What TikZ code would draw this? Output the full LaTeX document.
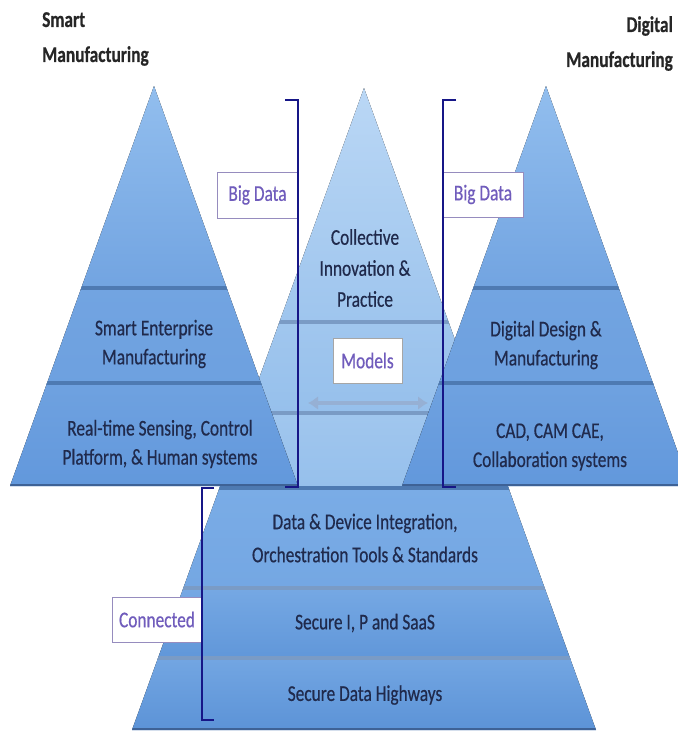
\documentclass[tikz,border=0pt]{standalone}
\usepackage{fontspec}
\setmainfont{Carlito}[FakeStretch=0.77, FakeBold=0.5]
\usetikzlibrary{arrows.meta,positioning}
\definecolor{sidetop}{RGB}{146,190,238}
\definecolor{sidemid}{RGB}{114,164,225}
\definecolor{sidelow}{RGB}{98,152,220}
\definecolor{midtop}{RGB}{186,215,245}
\definecolor{midlow}{RGB}{150,192,236}
\definecolor{basetop}{RGB}{122,172,230}
\definecolor{baselow}{RGB}{92,147,215}
\definecolor{divider}{RGB}{78,122,178}
\definecolor{edgeblue}{RGB}{62,98,150}
\definecolor{bracketblue}{RGB}{22,22,135}
\definecolor{tagtext}{RGB}{112,92,188}
\definecolor{tagborder}{RGB}{150,140,190}
\definecolor{bodytext}{RGB}{32,42,76}
\definecolor{arrowgray}{RGB}{150,176,212}
\tikzset{
    layer line/.style={line width=4pt, divider},
    edge line/.style={line width=3pt, edgeblue},
    bracket/.style={line width=2.6pt, bracketblue},
    tag/.style={draw=tagborder, fill=white, text=tagtext, line width=1pt, inner sep=0pt},
    layer text/.style={text=bodytext, align=center, inner sep=0pt},
    title/.style={font=\fontsize{22.5}{35}\selectfont\bfseries, text=black!85, inner sep=0pt},
    model arrow/.style={{Latex[length=10pt,width=14pt]}-{Latex[length=10pt,width=14pt]}, line width=4pt, arrowgray},
}
\tikzstyle{every node}=[font=\fontsize{22.5}{29}\selectfont]

\begin{document}
\begin{tikzpicture}[x=1pt,y=-1pt]
    \useasboundingbox (0,0) rectangle (678,737);

    % central pyramid, behind the two others
    \begin{scope}
        \clip (364,88) -- (596,730) -- (132,730) -- cycle;
        \fill[top color=midtop, bottom color=midlow!92!white] (0,88) rectangle (678,322);
        \fill[top color=midlow!90!white, bottom color=midlow] (0,322) rectangle (678,413);
        \fill[top color=midlow!90!white, bottom color=midlow] (0,413) rectangle (678,487);
        \fill[top color=basetop, bottom color=basetop!80!baselow] (0,487) rectangle (678,588);
        \fill[top color=basetop!85!baselow, bottom color=baselow!85!basetop] (0,588) rectangle (678,658);
        \fill[top color=basetop!75!baselow, bottom color=baselow] (0,658) rectangle (678,730);
        \foreach \y in {322,413,588,658} {
            \draw[layer line, divider!75!white] (0,\y) -- (678,\y);
        };
        \draw[layer line] (0,488) -- (678,488);
        \draw[edge line] (0,729) -- (678,729);
    \end{scope}

    % smart and digital pyramids
    \foreach \ax in {154,546} {
        \begin{scope}
            \clip (\ax,86) -- ++(144,400) -- ++(-288,0) -- cycle;
            \fill[top color=sidetop, bottom color=sidemid] (0,86) rectangle (678,288);
            \fill[top color=sidemid, bottom color=sidemid!70!sidelow] (0,288) rectangle (678,383);
            \fill[top color=sidemid!80!sidelow, bottom color=sidelow] (0,383) rectangle (678,486);
            \draw[layer line] (0,288) -- (678,288) (0,383) -- (678,383);
            \draw[edge line] (0,485) -- (678,485);
        \end{scope}
    };

    \node[title, anchor=north west, align=left] (smarttitle) at (42,12) {Smart\\Manufacturing};
    \node[title, anchor=north east, align=right] (digitaltitle) at (673,16) {Digital\\Manufacturing};

    \node[layer text] (enterprise) at (154,344) {Smart Enterprise\\Manufacturing};
    \node[layer text] (sensing) at (160,444) {Real-time Sensing, Control\\Platform, \& Human systems};
    \node[layer text, font=\fontsize{22.5}{31}\selectfont] (collective) at (365,268) {Collective\\Innovation \&\\Practice};
    \node[layer text] (design) at (546,345) {Digital Design \&\\Manufacturing};
    \node[layer text] (cad) at (550,447) {CAD, CAM CAE,\\Collaboration systems};
    \node[layer text, font=\fontsize{22.5}{33}\selectfont] (integration) at (365,538) {Data \& Device Integration,\\Orchestration Tools \& Standards};
    \node[layer text] (saas) at (365,623) {Secure I, P and SaaS};
    \node[layer text] (highways) at (365,695) {Secure Data Highways};

    \node[tag, minimum width=81pt, minimum height=46pt] (bigdataL) at (257.5,195) {Big Data};
    \node[tag, minimum width=80pt, minimum height=45pt] (bigdataR) at (483,194.5) {Big Data};
    \node[tag, minimum width=90pt, minimum height=45pt] (connected) at (157,619.5) {Connected};
    \node[tag, draw=black!35, minimum width=69pt, minimum height=45pt] (models) at (367.5,360.5) {Models};

    \coordinate (modelL) at (308,403);
    \coordinate (modelR) at (428,403);
    \draw[model arrow] (modelL) -- (modelR);

    \coordinate (bigLtop) at (285,100);
    \coordinate (bigLbot) at (285,487);
    \coordinate (bigRtop) at (456,100);
    \coordinate (bigRbot) at (456,487);
    \coordinate (conntop) at (214,488);
    \coordinate (connbot) at (214,720);
    \draw[bracket] (bigLtop) -- ++(13,0) |- (bigLbot);
    \draw[bracket] (bigRtop) -- ++(-13,0) |- (bigRbot);
    \draw[bracket] (conntop) -- ++(-12,0) |- (connbot);
\end{tikzpicture}
\end{document}
